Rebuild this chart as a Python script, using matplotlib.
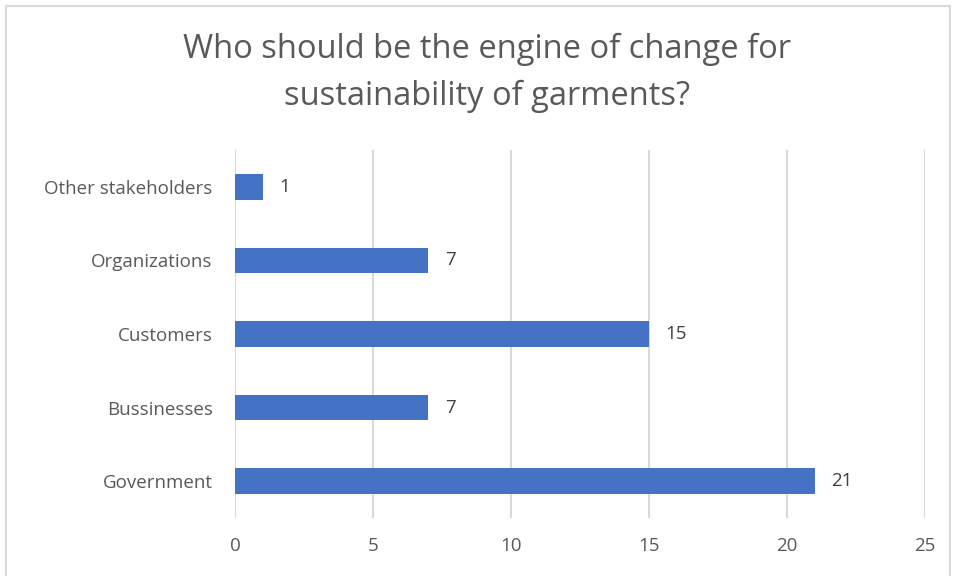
import matplotlib.pyplot as plt
from matplotlib.patches import Rectangle

categories = ["Government", "Bussinesses", "Customers", "Organizations", "Other stakeholders"]
values = [21, 7, 15, 7, 1]
x_ticks = [0, 5, 10, 15, 20, 25]

bar_color = "#4472C4"
text_color = "#595959"
grid_color = "#D9D9D9"


def main():
    plt.rcParams["font.family"] = ["Open Sans", "DejaVu Sans"]
    fig = plt.figure(figsize=(9.54, 5.76), dpi=100)

    # chart frame like the spreadsheet export
    fig.patches.append(Rectangle((0.006, -0.05), 0.99, 1.04, transform=fig.transFigure,
                                 fill=False, edgecolor=grid_color, linewidth=1.5))

    ax = fig.add_axes([0.2463, 0.1007, 0.7233, 0.6389])
    pos = list(range(len(categories)))
    ax.barh(pos, values, height=0.35, color=bar_color, zorder=3)
    for p, v in zip(pos, values):
        ax.text(v + 0.6, p, str(v), va="center", ha="left", fontsize=13.5, color="#404040")

    ax.set_xlim(0, 25)
    ax.set_ylim(-0.5, 4.5)
    ax.set_xticks(x_ticks)
    ax.set_yticks(pos)
    ax.set_yticklabels(categories)
    ax.tick_params(axis="both", length=0, labelsize=13.5, labelcolor=text_color)
    ax.tick_params(axis="x", pad=14)
    ax.tick_params(axis="y", pad=16)
    ax.xaxis.grid(True, color=grid_color, linewidth=1.5, zorder=0)
    for s in ax.spines.values():
        s.set_visible(False)

    fig.text(0.51, 0.873, "Who should be the engine of change for\nsustainability of garments?",
             ha="center", va="center", fontsize=23.5, color=text_color, linespacing=1.55)

    fig.savefig("out.png", dpi=100)


if __name__ == "__main__":
    main()
